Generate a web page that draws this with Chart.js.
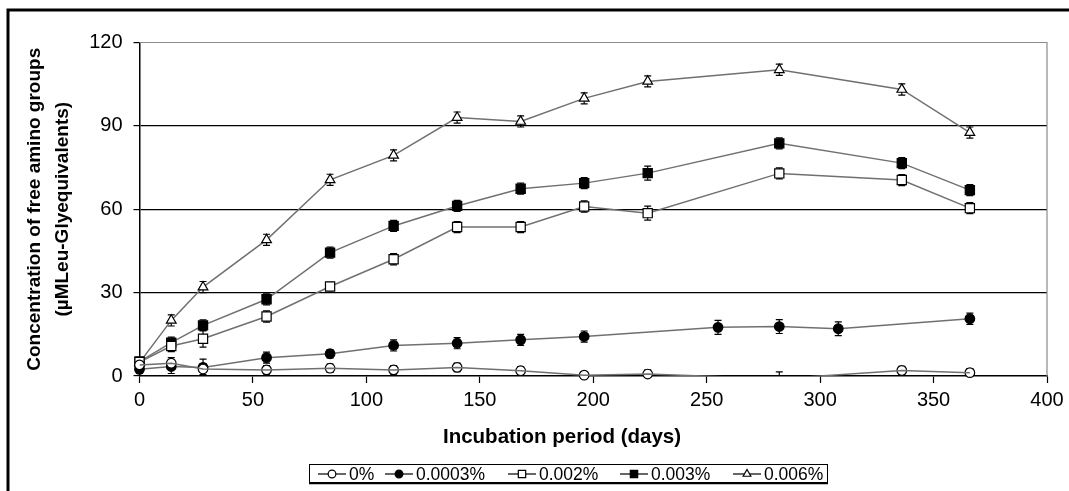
<!DOCTYPE html>
<html><head><meta charset="utf-8">
<script src="https://cdn.jsdelivr.net/npm/chart.js@4/dist/chart.umd.min.js"></script>
<style>html,body{margin:0;padding:0;background:#fff;}#wrap{width:1069px;height:491px;position:relative;}</style>
</head><body><div id="wrap"><canvas id="c"></canvas></div>
<script>
// ---- data ----
const seriesNames = ['0%', '0.0003%', '0.002%', '0.003%', '0.006%'];
const daysA = [0, 14, 28, 56, 84, 112, 140, 168, 196, 224, 282, 336, 366];
const daysB = [0, 14, 28, 56, 84, 112, 140, 168, 196, 255, 282, 308, 366];
const conc0    = [4.0, 4.6, 2.5, 2.2, 2.8, 2.2, 3.1, 1.9, 0.3, 0.7, -1.0, 2.0, 1.2];
const conc0003 = [2.4, 3.4, 3.1, 6.6, 8.0, 11.0, 11.8, 13.0, 14.2, 17.5, 17.8, 17.0, 20.6];
const conc002  = [5.0, 10.8, 13.4, 21.4, 32.2, 42.0, 53.6, 53.6, 61.0, 58.6, 72.9, 70.5, 60.4];
const conc003  = [5.2, 12.0, 18.2, 27.6, 44.4, 54.0, 61.2, 67.4, 69.4, 73.0, 83.7, 76.6, 66.9];
const conc006  = [4.8, 20.0, 32.0, 49.0, 70.6, 79.4, 93.0, 91.6, 99.9, 106.0, 110.2, 103.1, 87.6];
const err0    = [1.5, 2.0, 2.0, 1.5, 1.5, 1.5, 1.5, 1.5, 1.0, 1.5, 2.5, 1.5, 1.5];
const err0003 = [1.5, 2.5, 3.0, 2.0, 1.5, 2.0, 2.0, 2.0, 2.0, 2.5, 2.5, 2.5, 2.0];
const err002  = [1.5, 2.0, 3.0, 2.0, 1.5, 2.0, 2.0, 2.0, 2.0, 2.5, 2.0, 2.0, 2.0];
const err003  = [1.5, 2.0, 2.0, 2.0, 2.0, 2.0, 2.0, 2.0, 2.0, 2.5, 2.0, 2.0, 2.0];
const err006  = [1.5, 2.0, 2.0, 2.0, 2.0, 2.0, 2.0, 2.0, 2.0, 2.0, 2.0, 2.0, 2.0];
const yTickValues = [0, 30, 60, 90, 120];
const xTickValues = [0, 50, 100, 150, 200, 250, 300, 350, 400];
const yTitle = ['Concentration of free amino groups', '(\u00b5MLeu-Glyequivalents)'];
const xTitle = 'Incubation period (days)';

// ---- build ----
const pts = (xs, ys) => xs.map((x, i) => ({x: x, y: ys[i]}));
const LINE = '#707070';
const styles = [
  {ps: 'circle', fill: '#fff', r: 4.8},
  {ps: 'circle', fill: '#000', r: 4.8},
  {ps: 'rect', fill: '#fff', r: 6.5},
  {ps: 'rect', fill: '#000', r: 6.5},
  {ps: 'triangle', fill: '#fff', r: 5.6}
];
const seriesX = [daysA, daysB, daysA, daysA, daysA];
const seriesY = [conc0, conc0003, conc002, conc003, conc006];
const seriesE = [err0, err0003, err002, err003, err006];

const datasets = [];
seriesY.forEach((ys, k) => {
  const st = styles[k];
  if (k === 0) {
    datasets.push({label: seriesNames[k] + ' line', data: pts(seriesX[k], ys), borderColor: LINE, borderWidth: 1.5,
      pointRadius: 0, pointHoverRadius: 0, clip: 0, tension: 0});
    datasets.push({label: seriesNames[k], data: pts(seriesX[k], ys), showLine: false, clip: false,
      pointStyle: st.ps, pointBackgroundColor: st.fill, pointBorderColor: '#000', pointBorderWidth: 1.2,
      pointRadius: (c) => (c.raw && c.raw.y < 0 ? 0 : st.r)});
  } else {
    datasets.push({label: seriesNames[k], data: pts(seriesX[k], ys), borderColor: LINE, borderWidth: 1.5,
      clip: false, tension: 0, pointStyle: st.ps, pointBackgroundColor: st.fill, pointBorderColor: '#000',
      pointBorderWidth: 1.2, pointRadius: st.r});
  }
});

const errorBars = {
  id: 'errorBars',
  beforeDatasetsDraw(chart) {
    const {ctx, chartArea: a, scales: {x, y}} = chart;
    ctx.save();
    ctx.beginPath();
    ctx.rect(a.left - 20, a.top - 20, a.right - a.left + 40, a.bottom - a.top + 20);
    ctx.clip();
    ctx.strokeStyle = '#000';
    ctx.lineWidth = 1.2;
    seriesY.forEach((ys, k) => {
      ys.forEach((v, i) => {
        const px = x.getPixelForValue(seriesX[k][i]);
        const y1 = y.getPixelForValue(v - seriesE[k][i]);
        const y2 = y.getPixelForValue(v + seriesE[k][i]);
        ctx.beginPath();
        ctx.moveTo(px, y1); ctx.lineTo(px, y2);
        ctx.moveTo(px - 3.5, y1); ctx.lineTo(px + 3.5, y1);
        ctx.moveTo(px - 3.5, y2); ctx.lineTo(px + 3.5, y2);
        ctx.stroke();
      });
    });
    ctx.restore();
  }
};

function drawMarker(ctx, st, cx, cy) {
  Chart.helpers.drawPoint(ctx, {pointStyle: st.ps, radius: st.r, rotation: 0, borderWidth: 1.2}, cx, cy);
}

const frameAndLegend = {
  id: 'frameAndLegend',
  beforeDraw(chart) {
    const ctx = chart.ctx;
    ctx.save();
    ctx.fillStyle = '#fff';
    ctx.fillRect(0, 0, chart.width, chart.height);
    ctx.restore();
  },
  afterDraw(chart) {
    const ctx = chart.ctx;
    const a = chart.chartArea;
    ctx.save();
    // outer frame (top + left visible)
    ctx.strokeStyle = '#000';
    ctx.lineWidth = 3;
    ctx.beginPath();
    ctx.moveTo(8, 491); ctx.lineTo(8, 10); ctx.lineTo(1069, 10);
    ctx.stroke();
    // plot area gray border top/right
    ctx.strokeStyle = '#8c8c8c';
    ctx.lineWidth = 1.2;
    ctx.beginPath();
    ctx.moveTo(a.left, a.top); ctx.lineTo(a.right, a.top); ctx.lineTo(a.right, a.bottom);
    ctx.stroke();
    // x axis title
    ctx.fillStyle = '#000';
    ctx.font = 'bold 20.5px "Liberation Sans", Arial, sans-serif';
    ctx.textAlign = 'center';
    ctx.textBaseline = 'middle';
    ctx.fillText(xTitle, 562, 437.5);
    // legend box
    const lx = 309, ly = 464, lw = 518, lh = 18;
    ctx.strokeStyle = '#000';
    ctx.lineWidth = 1;
    ctx.strokeRect(lx + 0.5, ly + 0.5, lw, lh);
    ctx.lineWidth = 1.5;
    ctx.beginPath(); ctx.moveTo(lx, ly + lh + 1.5); ctx.lineTo(lx + lw + 1, ly + lh + 1.5); ctx.stroke();
    const itemX = [318, 385, 508, 620, 733];
    const cy = ly + lh / 2 + 1;
    ctx.font = '17.5px "Liberation Sans", Arial, sans-serif';
    ctx.textBaseline = 'middle';
    ctx.textAlign = 'left';
    seriesNames.forEach((n, k) => {
      const x0 = itemX[k];
      ctx.strokeStyle = '#000';
      ctx.lineWidth = 1.2;
      ctx.beginPath(); ctx.moveTo(x0, cy); ctx.lineTo(x0 + 28, cy); ctx.stroke();
      ctx.fillStyle = styles[k].fill;
      ctx.strokeStyle = '#000';
      const st = Object.assign({}, styles[k], {r: styles[k].r * 0.8});
      drawMarker(ctx, st, x0 + 14, cy);
      ctx.fillStyle = '#000';
      ctx.fillText(n, x0 + 31, cy + 1);
    });
    ctx.restore();
  }
};

Chart.defaults.font.family = '"Liberation Sans", Arial, sans-serif';
Chart.defaults.color = '#000';

new Chart(document.getElementById('c'), {
  type: 'line',
  data: {datasets: datasets},
  options: {
    responsive: true,
    maintainAspectRatio: false,
    animation: false,
    events: [],
    layout: {padding: {left: 0, right: 22, top: 42.5, bottom: 0}},
    plugins: {legend: {display: false}, tooltip: {enabled: false}},
    scales: {
      x: {
        type: 'linear', min: 0, max: 400,
        afterBuildTicks: (s) => { s.ticks = xTickValues.map(v => ({value: v})); },
        afterFit: (s) => { s.height = 115; },
        border: {display: true, color: '#000', width: 1.5},
        grid: {drawOnChartArea: false, tickLength: 7, tickColor: '#000', tickWidth: 1.2},
        ticks: {font: {size: 20}, padding: 5, maxRotation: 0, color: '#000'},
        title: {display: false, text: xTitle}
      },
      y: {
        type: 'linear', min: 0, max: 120,
        afterBuildTicks: (s) => { s.ticks = yTickValues.map(v => ({value: v})); },
        afterFit: (s) => { s.width = 139.5; },
        border: {display: true, color: '#000', width: 1.5},
        grid: {
          tickLength: 6, tickColor: '#000', tickWidth: 1.2, lineWidth: 1.2,
          color: (c) => (c.tick && (c.tick.value === 0 || c.tick.value === 120) ? 'rgba(0,0,0,0)' : '#000')
        },
        ticks: {font: {size: 20}, padding: 11, color: '#000'},
        title: {display: true, text: yTitle, font: {size: 19, weight: 'bold', lineHeight: 1.47}, padding: {top: 21, bottom: 0}, color: '#000'}
      }
    }
  },
  plugins: [errorBars, frameAndLegend]
});
</script>
</body></html>
